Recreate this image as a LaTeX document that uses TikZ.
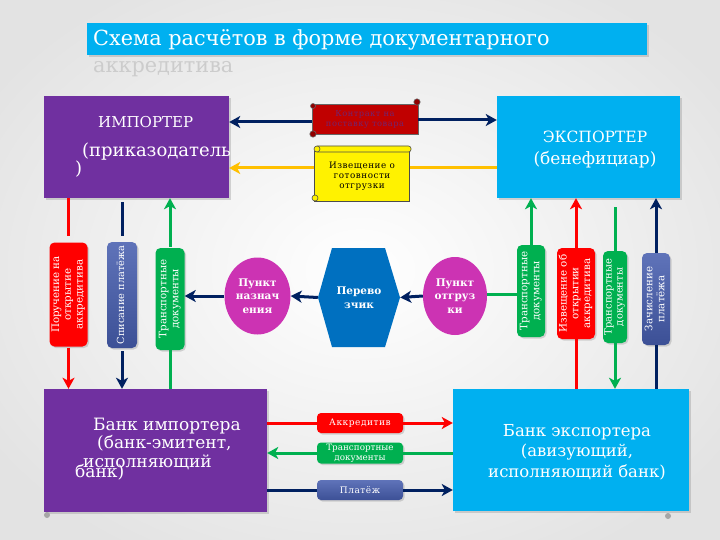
\documentclass[tikz,border=0pt]{standalone}
\usepackage{fontspec}
\setmainfont{DejaVu Serif}
\newfontfamily\spc{DejaVu Serif}[LetterSpace=6]
\usetikzlibrary{arrows.meta,shadows,calc,shapes.geometric}
\definecolor{cpurple}{HTML}{7030A0}
\definecolor{ccyan}{HTML}{00B0F0}
\definecolor{cred}{HTML}{FF0000}
\definecolor{cgreen}{HTML}{00B050}
\definecolor{cnavy}{HTML}{002060}
\definecolor{cyell}{HTML}{FFC000}
\definecolor{cmag}{RGB}{204,51,179}
\definecolor{chex}{HTML}{0070C0}
\definecolor{cdred}{HTML}{C00000}
\definecolor{ctxtred}{RGB}{115,35,110}
\definecolor{cbox1}{RGB}{95,115,185}
\definecolor{cbox2}{RGB}{60,80,150}
\newcommand\vtxt[1]{\rotatebox{90}{\begin{tabular}{@{}c@{}}#1\end{tabular}}}
\begin{document}
\begin{tikzpicture}[x=1pt,y=-1pt,
  box/.style={draw=none, inner sep=0pt, drop shadow={shadow xshift=2pt, shadow yshift=-2pt, opacity=.3}},
  vbox/.style={draw=none, rounded corners=5pt, inner sep=0pt, text=white,
     font=\fontsize{10.3}{11.8}\selectfont, drop shadow={shadow xshift=1.5pt, shadow yshift=-1.5pt, opacity=.3}},
  hbox/.style={draw=none, rounded corners=4pt, inner sep=0pt, text=white, align=center,
     font=\spc\fontsize{9}{10.5}\selectfont, minimum width=86pt, minimum height=20pt,
     drop shadow={shadow xshift=1.5pt, shadow yshift=-1.5pt, opacity=.3}},
  wt/.style={text=white, inner sep=0pt},
  ln/.style={line width=3pt},
  arr/.style={line width=3pt, -{Stealth[length=11pt,width=12pt,inset=3pt]}},
  circ/.style={ellipse, fill=cmag, text=white, align=center, inner sep=0pt,
     font=\bfseries\fontsize{10.5}{13.5}\selectfont},
]
\useasboundingbox (0,0) rectangle (720,540);
\shade[inner color=white, outer color=gray!22] (-80,-60) rectangle (800,600);

% title
\node[box, fill=ccyan, minimum width=560pt, minimum height=32pt] (title) at (367,39) {};
\node[wt, anchor=base west, font=\fontsize{20.8}{24}\selectfont] (title1) at (93,46) {Схема расчётов в форме документарного};
\node[anchor=base west, inner sep=0pt, text=gray!40, font=\fontsize{20.8}{24}\selectfont] (title2) at (93,73) {аккредитива};

% importer / exporter
\node[box, fill=cpurple, minimum width=185pt, minimum height=102pt] (imp) at (136.5,147) {};
\node[wt, anchor=base west, font=\fontsize{15}{18}\selectfont] (impT1) at (98,128) {ИМПОРТЕР};
\node[wt, anchor=base west, font=\fontsize{18}{20}\selectfont] (impT2) at (82,157) {(приказодатель};
\node[wt, anchor=base west, font=\fontsize{18}{20}\selectfont] (impT3) at (75,175) {)};

\node[box, fill=ccyan, minimum width=183pt, minimum height=102pt] (exp) at (588.5,147) {};
\node[wt, anchor=base, font=\fontsize{15.5}{18}\selectfont] (expT1) at (595,143) {ЭКСПОРТЕР};
\node[wt, anchor=base, font=\fontsize{17}{20}\selectfont] (expT2) at (595,165) {(бенефициар)};

% scrolls
\node[draw=black!60, line width=0.6pt, fill=cdred, minimum width=106pt, minimum height=30pt, inner sep=0pt,
  text=ctxtred, align=center, font=\spc\fontsize{8.3}{10}\selectfont] (contract) at (365,119)
  {Контракт на\\поставку товара};
\draw[black!60, line width=0.6pt, fill=cdred!75!black] (417,102) circle (3.2);
\draw[black!60, line width=0.6pt, fill=cdred!75!black] (313,134) circle (3.2);
\draw[black!60, line width=0.6pt, fill=cdred!75!black] (313,106) circle (2.5);

\node[draw=black!70, line width=0.6pt, fill=yellow, minimum width=95pt, minimum height=50pt, inner sep=0pt,
  align=center, font=\spc\fontsize{8.8}{9.8}\selectfont] (notice) at (362,176)
  {Извещение о\\готовности\\отгрузки};
\draw[black!70, line width=0.6pt, fill=yellow, rounded corners=2.5pt] (315,146) rectangle (411,152);
\draw[black!70, line width=0.6pt, fill=yellow] (317,149) circle (3);
\draw[black!70, line width=0.6pt, fill=yellow] (315,198) circle (3);

% top connectors
\draw[arr, cnavy] ([yshift=-3pt]contract.west) -- ([yshift=-3pt]contract.west -| imp.east);
\draw[arr, cnavy] ([yshift=-1pt]contract.east) -- ([yshift=-1pt]contract.east -| exp.west);
\draw[arr, cyell] ([yshift=8pt]notice.west) -- ([yshift=8pt]notice.west -| imp.east);
\draw[ln, cyell] ([yshift=8pt]notice.east) -- ([yshift=8pt]notice.east -| exp.west);

% left vertical boxes
\node[vbox, fill=cred, minimum width=38pt, minimum height=104pt] (lb1) at (68.5,294.5)
  {\vtxt{Поручение на\\открытие\\аккредитива}};
\node[vbox, top color=cbox1, bottom color=cbox2, minimum width=30pt, minimum height=106pt,
  font=\fontsize{9.8}{11}\selectfont] (lb2) at (122,295)
  {\vtxt{Списание платёжа}};
\node[vbox, fill=cgreen, minimum width=29pt, minimum height=102pt] (lb3) at (170,299)
  {\vtxt{Транспортные\\документы}};

% right vertical boxes
\node[vbox, fill=cgreen, minimum width=28pt, minimum height=92pt] (rb1) at (531,291)
  {\vtxt{Транспортные\\документы}};
\node[vbox, fill=cred, minimum width=38pt, minimum height=91pt] (rb2) at (576,293.5)
  {\vtxt{Извещение об\\открытии\\аккредитива}};
\node[vbox, fill=cgreen, minimum width=24pt, minimum height=92pt, font=\fontsize{10}{11}\selectfont] (rb3) at (615,297)
  {\vtxt{Транспортные\\документы}};
\node[vbox, top color=cbox1, bottom color=cbox2, minimum width=28pt, minimum height=92pt] (rb4) at (656,299)
  {\vtxt{Зачисление\\платёжа}};

% banks
\node[box, fill=cpurple, minimum width=223pt, minimum height=123pt] (bimp) at (155.5,450.5) {};
\node[wt, anchor=base west, font=\fontsize{17}{20}\selectfont] (bimpT1) at (93,430) {Банк импортера};
\node[wt, anchor=base west, font=\fontsize{17}{20}\selectfont] (bimpT2) at (97,448) {(банк-эмитент,};
\node[wt, anchor=base west, font=\fontsize{17}{20}\selectfont] (bimpT3) at (83,467) {исполняющий};
\node[wt, anchor=base west, font=\fontsize{17}{20}\selectfont] (bimpT4) at (75,477) {банк)};

\node[box, fill=ccyan, minimum width=236pt, minimum height=122pt] (bexp) at (571,450) {};
\node[wt, anchor=base, font=\fontsize{16.5}{20}\selectfont] (bexpT1) at (577,436) {Банк экспортера};
\node[wt, anchor=base, font=\fontsize{16.5}{20}\selectfont] (bexpT2) at (577,456) {(авизующий,};
\node[wt, anchor=base, font=\fontsize{16.5}{20}\selectfont] (bexpT3) at (577,477) {исполняющий банк)};

% left column connectors
\draw[ln, cred] (imp.south -| lb1.north) -- ([yshift=6pt]lb1.north);
\draw[arr, cred] ([yshift=-1pt]lb1.south) -- (lb1.south |- bimp.north);
\draw[ln, cnavy] ([yshift=-4pt]imp.south -| lb2.north) -- ([yshift=6pt]lb2.north);
\draw[arr, cnavy] ([yshift=-3pt]lb2.south) -- (lb2.south |- bimp.north);
\draw[ln, cgreen] (lb3.south |- bimp.north) -- (lb3.south);
\draw[arr, cgreen] ([yshift=1pt]lb3.north) -- (lb3.north |- imp.south);

% right column connectors
\draw[arr, cgreen] (rb1.north) -- (rb1.north |- exp.south);
\draw[ln, cred] (rb2.south |- bexp.north) -- (rb2.south);
\draw[arr, cred] (rb2.north) -- (rb2.north |- exp.south);
\draw[ln, cgreen] ([yshift=-9pt]exp.south -| rb3.north) -- (rb3.north);
\draw[arr, cgreen] (rb3.south) -- (rb3.south |- bexp.north);
\draw[ln, cnavy] (rb4.south |- bexp.north) -- (rb4.south);
\draw[arr, cnavy] (rb4.north) -- (rb4.north |- exp.south);

% middle row
\node[circ, minimum width=66pt, minimum height=77pt] (nazn) at (257.5,296) {Пункт\\назнач\\ения};
\node[circ, minimum width=64pt, minimum height=78pt] (otgr) at (455,296) {Пункт\\отгруз\\ки};
\fill[chex] (332,248) -- (385,248) -- (400,297.5) -- (385,347) -- (332,347) -- (318,297.5) -- cycle;
\node[inner sep=0pt, minimum width=82pt, minimum height=99pt, text=white, align=center,
  font=\bfseries\fontsize{10.5}{13.5}\selectfont] (hex) at (359,297.5) {Перево\\зчик};

\draw[arr, cnavy] (otgr.west) -- (hex.east);
\draw[arr, cnavy] (hex.west) -- (nazn.east);
\draw[arr, cnavy] (nazn.west) -- (nazn.west -| lb3.east);
\draw[ln, cgreen] ([yshift=2pt]otgr.east) -- ([yshift=2pt]otgr.east -| rb1.west);

% bottom middle boxes
\node[hbox, fill=cred] (akk) at (360,423) {Аккредитив};
\node[hbox, fill=cgreen, minimum height=21pt, font=\fontsize{8.8}{10}\selectfont] (tdoc) at (360,453) {Транспортные\\документы};
\node[hbox, top color=cbox1, bottom color=cbox2] (plat) at (360,490) {Платёж};

\draw[ln, cred] (akk.west -| bimp.east) -- (akk.west);
\draw[arr, cred] (akk.east) -- (akk.east -| bexp.west);
\draw[arr, cgreen] (tdoc.west) -- (tdoc.west -| bimp.east);
\draw[ln, cgreen] (tdoc.east) -- (tdoc.east -| bexp.west);
\draw[ln, cnavy] (plat.west -| bimp.east) -- (plat.west);
\draw[arr, cnavy] (plat.east) -- (plat.east -| bexp.west);

% slide dots
\fill[gray!70] (47,515) circle (3);
\fill[gray!70] (668,516) circle (3);
\end{tikzpicture}
\end{document}
